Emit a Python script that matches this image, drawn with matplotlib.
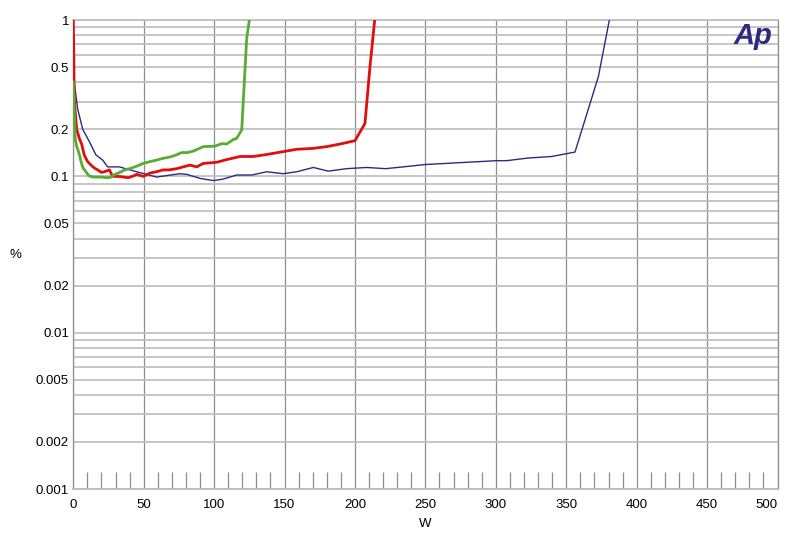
#!/usr/bin/env python3
"""THD+N (%) vs output power (W), three load conditions, log y axis."""

import matplotlib
matplotlib.use('Agg')
import matplotlib.pyplot as plt
from matplotlib.ticker import FixedLocator, NullLocator

plt.rcParams.update({
    'font.family': ['Liberation Sans', 'DejaVu Sans'],
    'font.size': 9.5,
})

# --- data ------------------------------------------------------------------
blue_w = [0.4, 0.7, 3.1, 6.7, 11.4, 16.1, 20.9, 24.4, 32.7, 45, 59.2, 75.7,
          80.5, 90, 99.4, 106.3, 116, 126.7, 137.3, 149.1, 158.6, 170.4, 181,
          194, 208.3, 221.7, 234.3, 249.7, 300.6, 307.7, 323, 339.7, 356.2,
          372.8, 380.6]
blue_v = [0.55, 0.40, 0.27, 0.20, 0.167, 0.137, 0.127, 0.115, 0.115, 0.107,
          0.099, 0.104, 0.103, 0.097, 0.094, 0.096, 0.102, 0.102, 0.107, 0.104,
          0.107, 0.114, 0.108, 0.112, 0.114, 0.112, 0.115, 0.119, 0.126, 0.126,
          0.131, 0.134, 0.143, 0.434, 1.0]

red_w = [0, 0.3, 0.7, 1.5, 2.4, 4.3, 6, 7.8, 10, 12.6, 15, 17.3, 20, 22, 25.6,
         28, 32, 35.5, 39, 42, 45, 49.7, 54.5, 59, 63.9, 68, 73.4, 78, 82.9,
         87.6, 92.3, 101.8, 108.9, 118.4, 127.8, 137.3, 149.1, 158.6, 170.4,
         180, 189.4, 200, 207.1, 210.7, 214]
red_v = [1.0, 0.66, 0.315, 0.25, 0.2, 0.175, 0.16, 0.137, 0.125, 0.118, 0.113,
         0.110, 0.106, 0.107, 0.110, 0.100, 0.100, 0.099, 0.098, 0.100, 0.103,
         0.100, 0.105, 0.107, 0.110, 0.110, 0.112, 0.115, 0.118, 0.115, 0.121,
         0.123, 0.128, 0.134, 0.134, 0.138, 0.144, 0.149, 0.151, 0.155, 0.161,
         0.169, 0.218, 0.51, 1.0]

green_w = [0, 1.4, 2.4, 3.1, 4.8, 5.5, 7, 9, 11, 13.8, 19, 24.9, 27, 29.6, 33,
           36.7, 40, 43.8, 49.7, 54, 59.2, 63, 68.7, 73, 77, 81, 85.2, 92.3,
           100.6, 105.4, 108.9, 113.6, 116, 119.6, 123.1, 125]
green_v = [0.40, 0.175, 0.155, 0.15, 0.133, 0.124, 0.113, 0.107, 0.101, 0.099,
           0.099, 0.098, 0.099, 0.103, 0.106, 0.110, 0.112, 0.115, 0.121, 0.124,
           0.127, 0.130, 0.133, 0.137, 0.142, 0.142, 0.145, 0.155, 0.156, 0.162,
           0.161, 0.172, 0.175, 0.198, 0.76, 1.0]

x_ticks = [0, 50, 100, 150, 200, 250, 300, 350, 400, 450, 500]
y_labelled = [0.001, 0.002, 0.005, 0.01, 0.02, 0.05, 0.1, 0.2, 0.5, 1]

HGRID = '#bcbcbc'
VGRID = '#8e8e8e'

fig = plt.figure(figsize=(8, 5.55), dpi=100)
ax = fig.add_axes([0.0916, 0.1189, 0.8803, 0.845])

ax.plot(blue_w, blue_v, color='#2d2a80', lw=1.0, zorder=3)
ax.plot(red_w, red_v, color='#e10e0e', lw=2.0, zorder=4)
ax.plot(green_w, green_v, color='#5aab32', lw=2.0, zorder=5)

ax.set_yscale('log')
ax.set_xlim(0, 500)
ax.set_ylim(0.001, 1)

# horizontal grid at every 1..9 step of each decade, labels only at 1-2-5
y_grid = [m * 10.0 ** e for e in (-3, -2, -1) for m in range(1, 10)] + [1.0]
ax.yaxis.set_major_locator(FixedLocator(y_grid))
ax.yaxis.set_minor_locator(NullLocator())
ax.set_yticklabels(['%g' % v if any(abs(v - t) < 1e-12 for t in y_labelled) else ''
                    for v in y_grid])

ax.xaxis.set_major_locator(FixedLocator(x_ticks))
ax.xaxis.set_minor_locator(FixedLocator([v for v in range(10, 500, 10) if v % 50]))
labels = ax.set_xticklabels([str(v) for v in x_ticks])
labels[-1].set_ha('right')

ax.grid(True, axis='y', which='major', color=HGRID, lw=1.2, zorder=0)
ax.grid(True, axis='x', which='major', color=VGRID, lw=0.9, zorder=0)
ax.tick_params(which='major', length=0, pad=3)
ax.tick_params(axis='x', which='major', pad=7)
ax.tick_params(axis='x', which='minor', direction='in', length=12.5,
               color=VGRID, width=0.9, bottom=True)
ax.tick_params(axis='y', which='minor', length=0)
for sp in ax.spines.values():
    sp.set_color(HGRID)
    sp.set_linewidth(1.2)
ax.spines['left'].set_color(VGRID)
ax.spines['left'].set_linewidth(0.9)
ax.spines['right'].set_color(VGRID)
ax.spines['right'].set_linewidth(0.9)

ax.set_xlabel('W', labelpad=5)
fig.text(9 / 800, 1 - 255 / 555, '%', ha='left', va='center')

ax.text(0.993, 0.995, 'Ap', transform=ax.transAxes, ha='right', va='top',
        fontsize=21, fontweight='bold', fontstyle='italic', color='#2d2a80',
        zorder=6)

fig.savefig('out.png', dpi=100)
